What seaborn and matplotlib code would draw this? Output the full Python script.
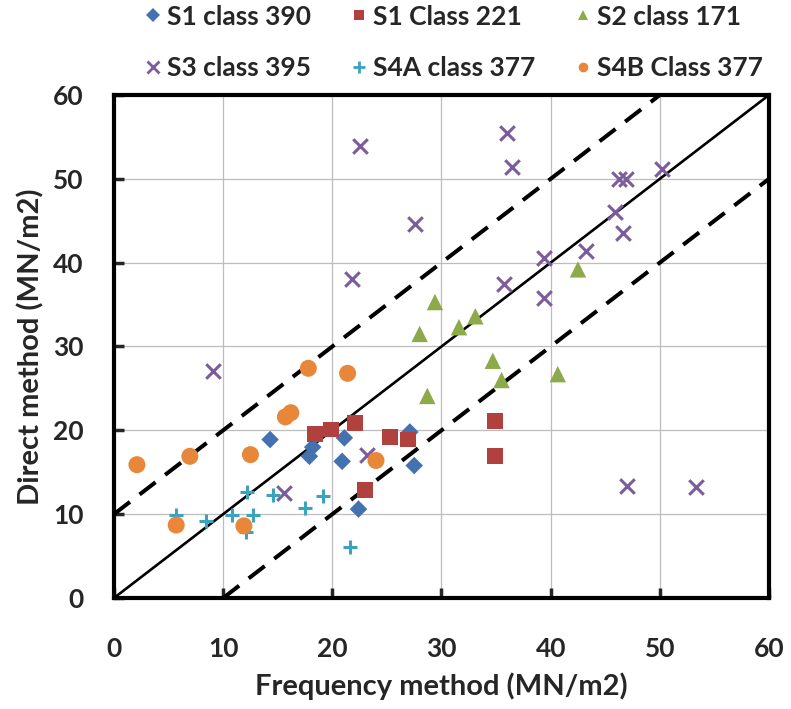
import matplotlib
matplotlib.use("Agg")
import matplotlib.pyplot as plt
import seaborn as sns
import numpy as np
import pandas as pd

# ---- data ----
s1_390_x = [14.3, 18.2, 17.9, 21.1, 20.9, 27.1, 27.5, 22.4]
s1_390_y = [18.9, 18.0, 16.9, 19.1, 16.3, 19.8, 15.8, 10.6]

s1_221_x = [18.45, 19.9, 22.1, 25.25, 26.9, 23.0, 34.9, 34.9]
s1_221_y = [19.6, 20.1, 20.9, 19.25, 18.9, 12.9, 21.1, 16.9]

s2_171_x = [42.5, 29.4, 28.0, 31.6, 33.1, 34.7, 35.5, 40.65, 28.7]
s2_171_y = [39.2, 35.3, 31.5, 32.3, 33.6, 28.3, 26.0, 26.7, 24.1]

s3_395_x = [22.5, 27.6, 21.8, 36.0, 36.5, 46.3, 46.9, 50.2, 45.9, 46.6,
            43.2, 39.4, 35.7, 39.4, 9.1, 23.2, 15.6, 47.0, 53.3]
s3_395_y = [53.9, 44.6, 38.0, 55.5, 51.4, 50.0, 50.0, 51.2, 46.1, 43.5,
            41.4, 40.5, 37.4, 35.8, 27.1, 17.0, 12.5, 13.4, 13.2]

s4a_377_x = [5.7, 8.4, 10.8, 12.7, 12.2, 12.05, 14.6, 17.5, 19.15, 21.65]
s4a_377_y = [9.9, 9.2, 9.9, 9.9, 12.6, 7.9, 12.3, 10.7, 12.2, 6.05]

s4b_377_x = [2.1, 6.95, 12.5, 5.7, 11.9, 15.7, 16.2, 17.8, 21.4, 24.0]
s4b_377_y = [15.9, 16.9, 17.1, 8.7, 8.6, 21.6, 22.1, 27.4, 26.8, 16.4]

ref_x = [0, 60]
ref_y = [0, 60]
upper_x = [0, 50]
upper_y = [10, 60]
lower_x = [10, 60]
lower_y = [0, 50]

ticks = [0, 10, 20, 30, 40, 50, 60]

series = [
    ("S1 class 390", s1_390_x, s1_390_y, "D", "#4472B0", 80, {}),
    ("S1 Class 221", s1_221_x, s1_221_y, "s", "#B0413E", 130, {}),
    ("S2 class 171", s2_171_x, s2_171_y, "^", "#8DAA4B", 140, {}),
    ("S3 class 395", s3_395_x, s3_395_y, "x", "#7B5C9C", 110, {"linewidths": 2.2}),
    ("S4A class 377", s4a_377_x, s4a_377_y, "+", "#3BA3BE", 110, {"linewidths": 2.2}),
    ("S4B Class 377", s4b_377_x, s4b_377_y, "o", "#E8873A", 150, {}),
]

sns.set_style("white")
plt.rcParams["font.family"] = ["Lato", "DejaVu Sans"]
plt.rcParams["font.weight"] = "bold"

fig = plt.figure(figsize=(7.91, 7.09), dpi=100)
ax = fig.add_axes([0.1441, 0.1566, 0.8281, 0.7094])

ax.grid(True, color="#bdbdbd", linewidth=0.9, zorder=0)
ax.set_axisbelow(True)

handles = {}
for name, xs, ys, mk, col, s, kw in series:
    df = pd.DataFrame({"x": xs, "y": ys})
    if mk in ("x", "+"):
        sns.scatterplot(data=df, x="x", y="y", marker=mk, color=col, s=s,
                        ax=ax, zorder=3, **kw)
    else:
        sns.scatterplot(data=df, x="x", y="y", marker=mk, color=col, s=s,
                        edgecolor="none", linewidth=0, ax=ax, zorder=3)
    handles[name] = plt.Line2D([], [], linestyle="none", marker=mk, color=col,
                               markerfacecolor=col, markeredgecolor=col,
                               markersize=7 if mk not in ("x", "+") else 8,
                               markeredgewidth=0 if mk not in ("x", "+") else 2)

sns.lineplot(x=ref_x, y=ref_y, color="black", linewidth=1.9, ax=ax, zorder=2)
sns.lineplot(x=upper_x, y=upper_y, color="black", linewidth=2.9, ax=ax,
             zorder=2, linestyle=(0, (5, 3)))
sns.lineplot(x=lower_x, y=lower_y, color="black", linewidth=2.9, ax=ax,
             zorder=2, linestyle=(0, (5, 3)))

ax.set_xlim(0, 60)
ax.set_ylim(0, 60)
ax.set_xticks(ticks)
ax.set_yticks(ticks)
ax.set_xticklabels([str(t) for t in ticks], fontsize=19, fontweight="bold")
ax.set_yticklabels([str(t) for t in ticks], fontsize=19, fontweight="bold")
ax.tick_params(axis="x", direction="in", length=7, width=2.5, pad=28, bottom=True)
ax.tick_params(axis="y", direction="in", length=7, width=2.5, pad=22, left=True)
for sp in ax.spines.values():
    sp.set_linewidth(3)
    sp.set_color("black")

ax.set_xlabel("Frequency method (MN/m2)", fontsize=21, fontweight="bold", labelpad=8)
ax.set_ylabel("Direct method (MN/m2)", fontsize=21, fontweight="bold", labelpad=6)

order = ["S1 class 390", "S3 class 395", "S1 Class 221", "S4A class 377",
         "S2 class 171", "S4B Class 377"]
fig.legend([handles[n] for n in order], order, ncol=3, frameon=False,
           loc="upper left", bbox_to_anchor=(0.153, 1.027),
           prop={"size": 19, "weight": "bold"}, handletextpad=0.25,
           columnspacing=1.5, labelspacing=1.05, handlelength=0.6)

fig.savefig("out.png", dpi=100)
